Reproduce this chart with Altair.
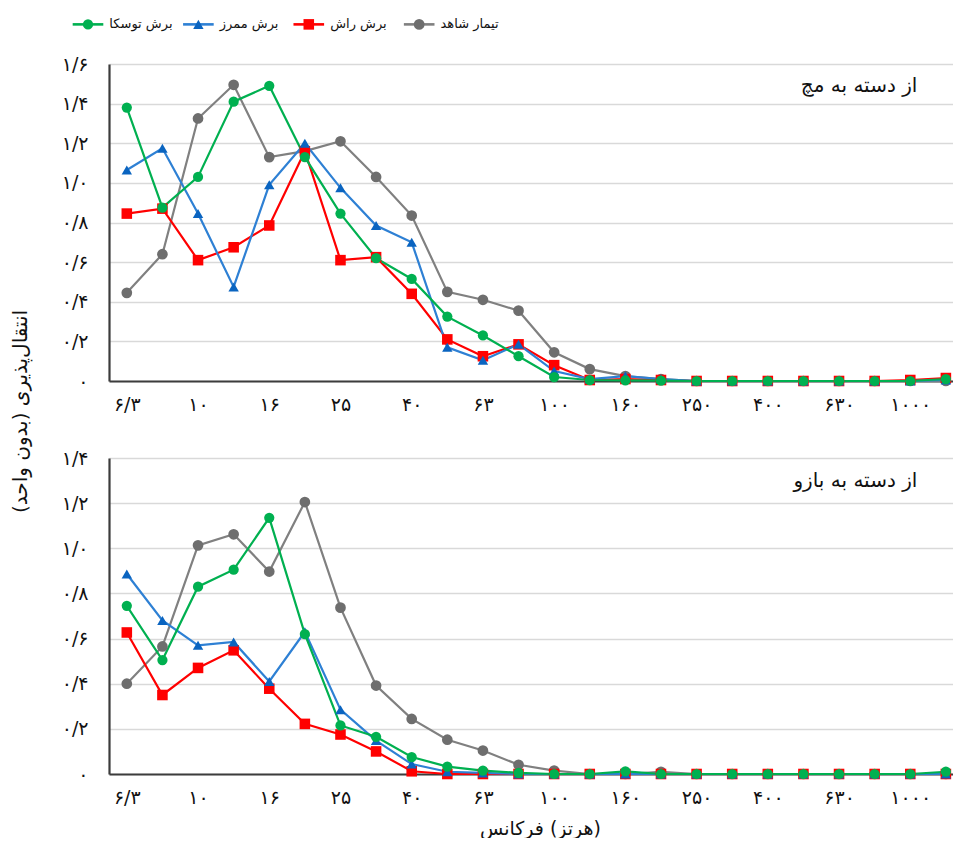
import altair as alt
import pandas as pd

# ---------------- data ----------------
freq_labels = ["۶/۳", "۸", "۱۰", "۱۲/۵", "۱۶", "۲۰", "۲۵", "۳۱/۵", "۴۰", "۵۰", "۶۳", "۸۰",
               "۱۰۰", "۱۲۵", "۱۶۰", "۲۰۰", "۲۵۰", "۳۱۵", "۴۰۰", "۵۰۰", "۶۳۰", "۸۰۰", "۱۰۰۰", "۱۲۵۰"]

series_names = ["برش توسکا", "برش ممرز", "برش راش", "تیمار شاهد"]
line_colors = ["#00b050", "#2e80d4", "#ff0000", "#808080"]
marker_colors = ["#00b050", "#0a64c0", "#ff0000", "#6e6e6e"]
marker_shapes = ["circle", "triangle-up", "square", "circle"]
marker_sizes = [105, 115, 72, 60]

panel_titles = ["از دسته به مچ", "از دسته به بازو"]
y_title = "انتقال‌پذیری (بدون واحد)"
x_title = "فرکانس\u200e (هرتز)"

# top panel (handle to wrist)
green_top = [1.38, 0.875, 1.03, 1.41, 1.49, 1.13, 0.845, 0.62, 0.515, 0.325, 0.23, 0.125,
             0.02, 0.005, 0.003, 0.002, 0.0, 0.0, 0.0, 0.0, 0.0, 0.0, 0.0, 0.01]
blue_top = [1.065, 1.175, 0.845, 0.475, 0.99, 1.2, 0.975, 0.785, 0.70, 0.17, 0.105, 0.185,
            0.05, 0.01, 0.025, 0.01, 0.0, 0.0, 0.0, 0.0, 0.0, 0.0, 0.0, 0.005]
red_top = [0.845, 0.87, 0.61, 0.675, 0.785, 1.16, 0.61, 0.625, 0.44, 0.21, 0.125, 0.185,
           0.08, 0.005, 0.01, 0.005, 0.0, 0.0, 0.0, 0.0, 0.0, 0.0, 0.005, 0.015]
gray_top = [0.445, 0.64, 1.325, 1.495, 1.13, 1.16, 1.21, 1.03, 0.835, 0.45, 0.41, 0.355,
            0.145, 0.06, 0.025, 0.01, 0.0, 0.0, 0.0, 0.0, 0.0, 0.0, 0.0, 0.0]

# bottom panel (handle to arm)
green_bot = [0.745, 0.505, 0.83, 0.905, 1.135, 0.62, 0.215, 0.165, 0.075, 0.033, 0.015, 0.005,
             0.0, 0.0, 0.012, 0.0, 0.0, 0.0, 0.0, 0.0, 0.0, 0.0, 0.0, 0.01]
blue_bot = [0.886, 0.68, 0.57, 0.585, 0.41, 0.63, 0.285, 0.148, 0.044, 0.01, 0.005, 0.0,
            0.0, 0.0, 0.0, 0.0, 0.0, 0.0, 0.0, 0.0, 0.0, 0.0, 0.0, 0.0]
red_bot = [0.627, 0.35, 0.47, 0.548, 0.378, 0.222, 0.175, 0.10, 0.012, 0.0, 0.0, 0.0,
           0.0, 0.0, 0.0, 0.0, 0.0, 0.0, 0.0, 0.0, 0.0, 0.0, 0.0, 0.0]
gray_bot = [0.40, 0.565, 1.013, 1.062, 0.897, 1.205, 0.737, 0.392, 0.244, 0.152, 0.104, 0.041,
            0.015, 0.0, 0.0, 0.01, 0.0, 0.0, 0.0, 0.0, 0.0, 0.0, 0.0, 0.0]

y_ticks_top = [0, 0.2, 0.4, 0.6, 0.8, 1.0, 1.2, 1.4, 1.6]
y_ticks_bot = [0, 0.2, 0.4, 0.6, 0.8, 1.0, 1.2, 1.4]
y_tick_labels = ["۰", "۰/۲", "۰/۴", "۰/۶", "۰/۸", "۱/۰", "۱/۲", "۱/۴", "۱/۶"]

FONT = "DejaVu Sans"

# draw order: gray, red, blue, green (green on top)
draw_order = [3, 2, 1, 0]


def long_df(values):
    rows = []
    for k in draw_order:
        for i, v in enumerate(values[k]):
            rows.append({"series": series_names[k], "idx": i, "value": v})
    return pd.DataFrame(rows)


top_df = long_df([green_top, blue_top, red_top, gray_top])
bot_df = long_df([green_bot, blue_bot, red_bot, gray_bot])
legend_df = pd.DataFrame({"series": series_names, "i": list(range(len(series_names)))})

color_scale = alt.Scale(domain=series_names, range=line_colors)
fill_scale = alt.Scale(domain=series_names, range=marker_colors)
shape_scale = alt.Scale(domain=series_names, range=marker_shapes)
size_scale = alt.Scale(domain=series_names, range=marker_sizes)

labels_js = "[" + ",".join("'" + s + "'" for s in freq_labels) + "]"
ylabels_js = "[" + ",".join("'" + s + "'" for s in y_tick_labels) + "]"

x_scale = alt.Scale(domain=[-0.5, 23.2], nice=False, zero=False)

PW = 844


def x_axis(title):
    kw = dict(
        values=list(range(0, len(freq_labels), 2)),
        labelExpr=labels_js + "[round(datum.value)]",
        grid=False, ticks=False, domain=True, domainColor="#3c3c3c", domainWidth=2.2,
        labelFontSize=19, labelColor="#111111", labelPadding=14, labelFont=FONT,
        labelFlush=False, labelOverlap=False,
    )
    if title:
        kw.update(title=title, titleFontSize=19, titleFontWeight="normal", titleFont=FONT,
                  titleColor="#111111", titlePadding=12, titleX=431, titleAlign="center")
    else:
        kw.update(title=None)
    return alt.Axis(**kw)


def y_axis(ticks, with_title):
    kw = dict(
        values=ticks,
        labelExpr=ylabels_js + "[round(datum.value*5)]",
        grid=True, gridColor="#d9d9d9", gridWidth=1.6,
        ticks=False, domain=True, domainColor="#3c3c3c", domainWidth=2.2,
        labelFontSize=19, labelColor="#111111", labelPadding=21, labelFont=FONT,
        labelFlush=False,
    )
    if with_title:
        kw.update(title=y_title, titleFontSize=20, titleFontWeight="normal", titleFont=FONT,
                  titleColor="#111111", titleAngle=-90, titleAlign="center",
                  titleBaseline="middle", titleX=-89, titleY=347)
    else:
        kw.update(title=None)
    return alt.Axis(**kw)


def panel(df, ymax, ticks, title_text, title_y, with_ytitle, xtitle, height, legend=False):
    xa = x_axis(xtitle)
    ya = y_axis(ticks, with_ytitle)
    ysc = alt.Scale(domain=[0, ymax], nice=False, zero=True)
    base = alt.Chart(df)
    lines = base.mark_line(strokeWidth=2.2).encode(
        x=alt.X("idx:Q", scale=x_scale, axis=xa),
        y=alt.Y("value:Q", scale=ysc, axis=ya),
        color=alt.Color("series:N", scale=color_scale, legend=None),
        order=alt.Order("idx:Q"),
    )
    points = base.mark_point(filled=True, opacity=1, strokeWidth=0).encode(
        x=alt.X("idx:Q", scale=x_scale, axis=xa),
        y=alt.Y("value:Q", scale=ysc, axis=ya),
        fill=alt.Fill("series:N", scale=fill_scale, legend=None),
        shape=alt.Shape("series:N", scale=shape_scale, legend=None),
        size=alt.Size("series:N", scale=size_scale, legend=None),
    )
    ann = alt.Chart(pd.DataFrame({"label": [title_text]})).mark_text(
        align="right", baseline="middle", fontSize=20, font=FONT, color="#111111"
    ).encode(
        x=alt.X(datum=22.2, scale=x_scale, axis=xa),
        y=alt.Y(datum=title_y, scale=ysc, axis=ya),
        text="label:N",
    )
    layers = [lines, points, ann]
    if legend:
        lbase = alt.Chart(legend_df).transform_calculate(
            c="-1.09 + 3.1 * datum.i",
            c1="-1.09 + 3.1 * datum.i - 0.43",
            c2="-1.09 + 3.1 * datum.i + 0.43",
            ct="-1.09 + 3.1 * datum.i + 0.6",
        )
        ly = alt.Y(datum=ymax + 0.2, scale=ysc, axis=ya)
        lrule = lbase.mark_rule(strokeWidth=2.6).encode(
            x=alt.X("c1:Q", scale=x_scale, axis=xa), x2="c2:Q", y=ly,
            color=alt.Color("series:N", scale=color_scale, legend=None),
        )
        lpt = lbase.mark_point(filled=True, opacity=1, strokeWidth=0).encode(
            x=alt.X("c:Q", scale=x_scale, axis=xa), y=ly,
            fill=alt.Fill("series:N", scale=fill_scale, legend=None),
            shape=alt.Shape("series:N", scale=shape_scale, legend=None),
            size=alt.Size("series:N", scale=size_scale, legend=None),
        )
        ltxt = lbase.mark_text(align="left", baseline="middle", fontSize=13, font=FONT,
                               color="#111111").encode(
            x=alt.X("ct:Q", scale=x_scale, axis=xa), y=ly, text="series:N",
        )
        layers += [lrule, lpt, ltxt]
    return alt.layer(*layers).properties(width=PW, height=height)


top = panel(top_df, 1.6, y_ticks_top, panel_titles[0], 1.49, True, None, 317, legend=True)
bottom = panel(bot_df, 1.4, y_ticks_bot, panel_titles[1], 1.30, False, x_title, 316)

chart = alt.vconcat(top, bottom, spacing=77, bounds="flush").properties(
    padding={"left": 2, "top": 10, "right": 0, "bottom": 0},
    background="white",
).configure_view(stroke=None)

chart.save("out.html", embed_options={"renderer": "svg", "actions": False})
